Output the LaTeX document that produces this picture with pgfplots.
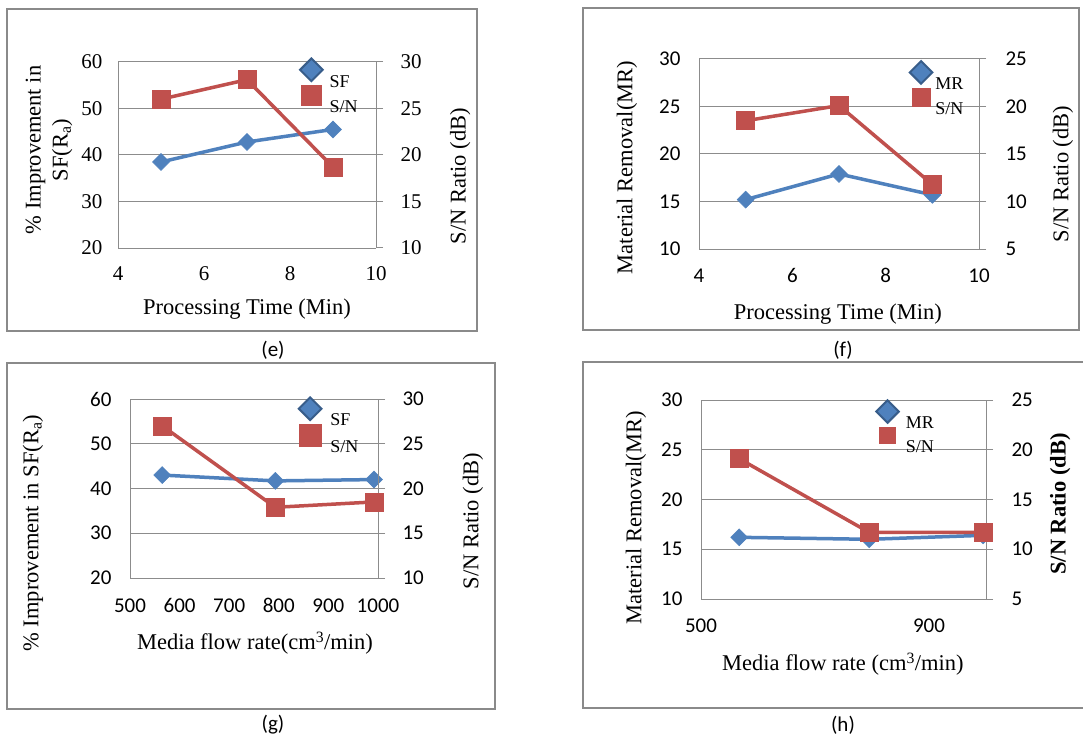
\documentclass[border=0pt]{standalone}
\usepackage{fontspec}
\setmainfont{Liberation Serif}
\newfontfamily\calfont{Carlito}
\usepackage{pgfplots}
\pgfplotsset{compat=1.18}
\definecolor{xblue}{HTML}{4F81BD}
\definecolor{xdblue}{HTML}{385D8A}
\definecolor{xred}{HTML}{C0504D}
\definecolor{xgrid}{HTML}{8C8C8C}
\definecolor{xbox}{HTML}{8A8A8A}
\newcommand{\tickfs}{\fontsize{21}{25}\selectfont}
\newcommand{\labfs}{\fontsize{22.5}{27}\selectfont}
\newcommand{\legfs}{\fontsize{18}{20}\selectfont}
\pgfplotsset{
  base/.style={scale only axis, clip=false, enlargelimits=false,
    axis line style={xgrid, line width=1pt}, tick style={xgrid, line width=1pt},
    /pgf/number format/assume math mode=true,
    /pgf/number format/set thousands separator={}},
  leftax/.style={base, axis x line*=bottom, axis y line*=left, major tick length=0pt,
    ymajorgrids, grid style={xgrid, line width=1pt},
    label style={font=\labfs}},
  rightax/.style={base, axis x line=none, axis y line*=right, major tick length=7pt,
    tick align=outside, label style={font=\labfs},
    legend style={draw=none, fill=none, inner sep=0pt, font=\legfs, row sep=-5pt,
      /tikz/every odd column/.append style={column sep=5pt}},
    legend cell align=left,
    legend image post style={yshift=12pt}},
  bline/.style={xblue, line width=3.5pt, mark=square*, mark size=6pt, mark options={rotate=45, solid, fill=xblue, draw=xblue, line width=0.5pt}},
  rline/.style={xred, line width=3.5pt, mark=square*, mark size=9pt, mark options={solid, fill=xred, draw=xred, line width=0.5pt}},
  bleg/.style={only marks, mark=square*, mark size=8pt, mark options={rotate=45, fill=xblue, draw=xdblue, line width=2pt}},
  rleg/.style={only marks, mark=square*, mark size=#1, mark options={fill=xred, draw=xred}},
}
\begin{document}
\begin{tikzpicture}[x=1pt,y=1pt]
\useasboundingbox (0,0) rectangle (1083,740);
\fill[white] (0,0) rectangle (1083,740);
% boxes
\draw[xbox, line width=2.2pt] (7,409) rectangle (477,731);
\draw[xbox, line width=2.2pt] (583,410) rectangle (1079,732);
\draw[xbox, line width=2.2pt] (7,31) rectangle (495,377);
\draw[xbox, line width=2.2pt] (583,32) rectangle (1095,378);
\node[font=\calfont\fontsize{21}{25}\selectfont] at (273,390) {(e)};
\node[font=\calfont\fontsize{21}{25}\selectfont] at (843,390) {(f)};
\node[font=\calfont\fontsize{21}{25}\selectfont] at (273,15) {(g)};
\node[font=\calfont\fontsize{21}{25}\selectfont] at (843,15) {(h)};

% ---------- (e) ----------
\begin{axis}[leftax, at={(118pt,492pt)}, anchor=south west, width=258pt, height=186pt,
  xmin=4, xmax=10, xtick={4,6,8,10}, ymin=20, ymax=60, ytick={20,30,40,50,60},
  ticklabel style={font=\tickfs},
  yticklabel style={xshift=-12pt}, xticklabel style={yshift=-15pt},
  xlabel={Processing Time (Min)},
  xlabel style={at={(axis description cs:0.5,-0.328)}, anchor=center},
  ylabel={\% Improvement in\\SF(R\textsubscript{a})},
  ylabel style={at={(axis description cs:-0.267,0.527)}, anchor=center, align=center}]
\addplot[bline] coordinates {(5,38.5) (7,42.8) (9,45.5)};
\end{axis}
\begin{axis}[rightax, at={(118pt,492pt)}, anchor=south west, width=258pt, height=186pt,
  xmin=4, xmax=10, ymin=10, ymax=30, ytick={10,15,20,25,30},
  ticklabel style={font=\tickfs}, yticklabel style={xshift=14pt},
  ylabel={S/N Ratio (dB)},
  ylabel style={at={(axis description cs:1.326,0.387)}, anchor=center},
  legend style={at={(axis description cs:0.705,1.02)}, anchor=north west}]
\addlegendimage{bleg}
\addlegendentry{SF}
\addlegendimage{rleg=10pt}
\addlegendentry{S/N}
\addplot[rline, forget plot] coordinates {(5,26.0) (7,28.1) (9,18.7)};
\end{axis}

% ---------- (f) ----------
\begin{axis}[leftax, at={(699pt,491pt)}, anchor=south west, width=280pt, height=190pt,
  xmin=4, xmax=10, xtick={4,6,8,10}, ymin=10, ymax=30, ytick={10,15,20,25,30},
  ticklabel style={font=\calfont\tickfs},
  yticklabel style={xshift=-15pt}, xticklabel style={yshift=-16pt},
  xlabel={Processing Time (Min)},
  xlabel style={at={(axis description cs:0.496,-0.342)}, anchor=center},
  ylabel={Material Removal(MR)},
  ylabel style={at={(axis description cs:-0.257,0.429)}, anchor=center}]
\addplot[bline] coordinates {(5,15.2) (7,17.9) (9,15.7)};
\end{axis}
\begin{axis}[rightax, at={(699pt,491pt)}, anchor=south west, width=280pt, height=190pt,
  xmin=4, xmax=10, ymin=5, ymax=25, ytick={5,10,15,20,25},
  ticklabel style={font=\calfont\tickfs}, yticklabel style={xshift=16pt},
  ylabel={S/N Ratio (dB)},
  ylabel style={at={(axis description cs:1.3,0.395)}, anchor=center},
  legend style={at={(axis description cs:0.752,0.99)}, anchor=north west,
    /tikz/every odd column/.append style={column sep=1pt}}]
\addlegendimage{bleg}
\addlegendentry{MR}
\addlegendimage{rleg=9pt}
\addlegendentry{S/N}
\addplot[rline, forget plot] coordinates {(5,18.5) (7,20.1) (9,11.8)};
\end{axis}

% ---------- (g) ----------
\begin{axis}[leftax, at={(130pt,162pt)}, anchor=south west, width=248pt, height=179pt,
  xmin=500, xmax=1000, xtick={500,600,700,800,900,1000}, ymin=20, ymax=60, ytick={20,30,40,50,60},
  ticklabel style={font=\calfont\tickfs},
  yticklabel style={xshift=-15pt}, xticklabel style={yshift=-17pt},
  xlabel={Media flow rate(cm\textsuperscript{3}/min)},
  xlabel style={at={(axis description cs:0.504,-0.363)}, anchor=center},
  ylabel={\% Improvement in SF(R\textsubscript{a})},
  ylabel style={at={(axis description cs:-0.391,0.251)}, anchor=center}]
\addplot[bline] coordinates {(565,43.0) (793,41.7) (992,42.0)};
\end{axis}
\begin{axis}[rightax, at={(130pt,162pt)}, anchor=south west, width=248pt, height=179pt,
  xmin=500, xmax=1000, ymin=10, ymax=30, ytick={10,15,20,25,30},
  ticklabel style={font=\calfont\tickfs}, yticklabel style={xshift=14pt},
  ylabel={S/N Ratio (dB)},
  ylabel style={at={(axis description cs:1.383,0.318)}, anchor=center},
  legend style={at={(axis description cs:0.68,1.01)}, anchor=north west,
    /tikz/every odd column/.append style={column sep=7pt}}]
\addlegendimage{bleg}
\addlegendentry{SF}
\addlegendimage{rleg=11pt}
\addlegendentry{S/N}
\addplot[rline, forget plot] coordinates {(565,27.0) (793,17.9) (992,18.5)};
\end{axis}

% ---------- (h) ----------
\begin{axis}[leftax, at={(701pt,141pt)}, anchor=south west, width=285pt, height=199pt,
  xmin=500, xmax=1000, xtick={500,900}, ymin=10, ymax=30, ytick={10,15,20,25,30},
  ticklabel style={font=\calfont\tickfs},
  yticklabel style={xshift=-15pt}, xticklabel style={yshift=-16pt},
  xlabel={Media flow rate (cm\textsuperscript{3}/min)},
  xlabel style={at={(axis description cs:0.498,-0.327)}, anchor=center},
  ylabel={Material Removal(MR)},
  ylabel style={at={(axis description cs:-0.228,0.407)}, anchor=center}]
\addplot[bline] coordinates {(567,16.2) (795,16.0) (995,16.4)};
\end{axis}
\begin{axis}[rightax, at={(701pt,141pt)}, anchor=south west, width=285pt, height=199pt,
  xmin=500, xmax=1000, ymin=5, ymax=25, ytick={5,10,15,20,25},
  ticklabel style={font=\calfont\tickfs}, yticklabel style={xshift=15pt},
  ylabel={\textbf{S/N Ratio (dB)}},
  ylabel style={at={(axis description cs:1.26,0.477)}, anchor=center},
  legend style={at={(axis description cs:0.614,1.0)}, anchor=north west}]
\addlegendimage{bleg}
\addlegendentry{MR}
\addlegendimage{rleg=8pt}
\addlegendentry{S/N}
\addplot[rline, forget plot] coordinates {(567,19.1) (795,11.7) (995,11.7)};
\end{axis}
\end{tikzpicture}
\end{document}
